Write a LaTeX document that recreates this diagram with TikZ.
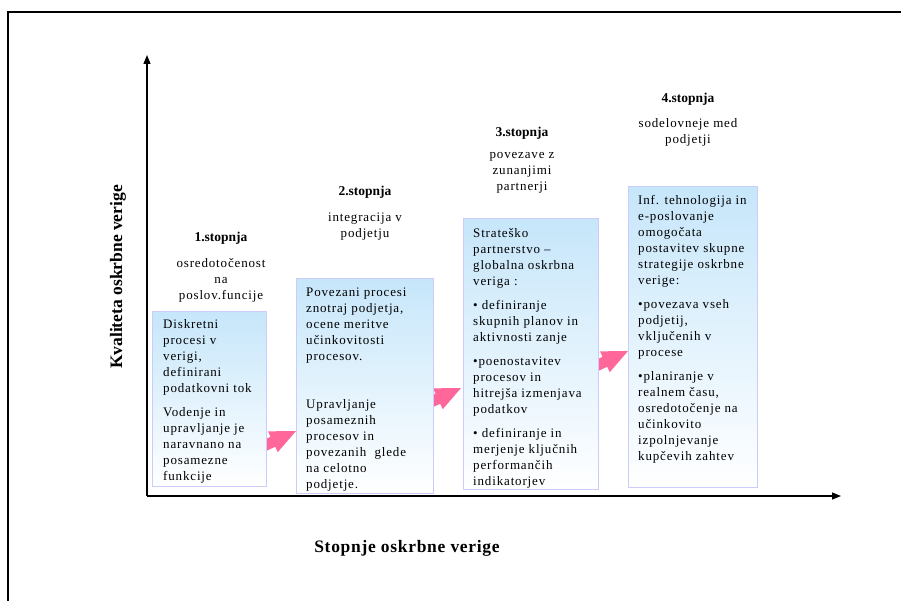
\documentclass[tikz,border=0pt]{standalone}
\usepackage{fontspec}
\setmainfont{Liberation Serif}
\newfontfamily\trackedfont{Liberation Serif}[LetterSpace=6.5]
\newfontfamily\labelfont{Liberation Serif}[LetterSpace=4]
\usetikzlibrary{arrows.meta}

\definecolor{boxtop}{RGB}{198,230,250}
\definecolor{boxline}{RGB}{204,204,250}
\definecolor{arrowpink}{RGB}{255,102,153}

\tikzset{
  stagebox/.style={draw=boxline, line width=0.9pt, top color=boxtop, bottom color=white,
    rectangle, inner sep=0pt, anchor=north west},
  boxtext/.style={anchor=north west, inner sep=0pt, align=left,
    font=\trackedfont\fontsize{13}{16}\selectfont, execute at begin node={\strut}},
  stagetitle/.style={anchor=base, inner sep=0pt, font=\bfseries\fontsize{13.5}{16}\selectfont},
  stagesub/.style={anchor=north, inner sep=0pt, align=center,
    font=\trackedfont\fontsize{13}{16}\selectfont, execute at begin node={\strut}},
  axislabel/.style={inner sep=0pt, font=\bfseries\fontsize{17.5}{20}\selectfont},
  axis/.style={line width=1.3pt, -{Triangle[length=9pt,width=7pt]}},
  stagearrow/.pic={
    \fill[arrowpink] (0,0) -- (-25.5,11.5) -- (-25.5,5.5) -- (-42,5.5) -- (-42,-5.5)
      -- (-25.5,-5.5) -- (-25.5,-11.5) -- cycle;}
}

\begin{document}
\begin{tikzpicture}[x=1pt,y=-1pt]
\useasboundingbox (0,0) rectangle (901,601);

% outer frame
\draw[line width=2.5pt] (8,605) -- (8,12) -- (905,12);

% axes
\coordinate (origin) at (147,496);
\coordinate (ytip) at (147,55);
\coordinate (xtip) at (841,496);
\draw[axis] (origin) -- (ytip);
\draw[axis] (origin) -- (xtip);
\node[axislabel, rotate=90] (ylab) at (118,277) {Kvaliteta oskrbne verige};
\node[axislabel, font=\labelfont\bfseries\fontsize{17.5}{20}\selectfont] (xlab) at (407,548) {Stopnje oskrbne verige};

% arrows between the stages (drawn first, boxes cover the shafts)
\coordinate (a1) at (296,431);
\coordinate (a2) at (461,388);
\coordinate (a3) at (628,351);
\pic[rotate=25] at (a1) {stagearrow};
\pic[rotate=25] at (a2) {stagearrow};
\pic[rotate=25] at (a3) {stagearrow};

% stage boxes
\node[stagebox, minimum width=114pt, minimum height=175pt] (b1) at (152,311) {};
\node[stagebox, minimum width=137pt, minimum height=215pt] (b2) at (296,278) {};
\node[stagebox, minimum width=135pt, minimum height=271pt] (b3) at (463,218) {};
\node[stagebox, minimum width=129pt, minimum height=301pt] (b4) at (628,186) {};

% stage titles
\node[stagetitle] (t1) at (221,242) {1.stopnja};
\node[stagetitle] (t2) at (365,196) {2.stopnja};
\node[stagetitle] (t3) at (522,137) {3.stopnja};
\node[stagetitle] (t4) at (688,103) {4.stopnja};

\node[stagesub] (s1) at (221,258.5) {osredotočenost\\na\\poslov.funcije};
\node[stagesub] (s2) at (365,212.5) {integracija v\\podjetju};
\node[stagesub] (s3) at (522,152.5) {povezave z\\zunanjimi\\partnerji};
\node[stagesub] (s4) at (688,118.5) {sodelovneje med\\podjetji};

% box contents
\node[boxtext] (c1) at (163,318.8) {Diskretni\\procesi v\\verigi,\\definirani\\podatkovni tok\\[8pt]
  Vodenje in\\upravljanje je\\naravnano na\\posamezne\\funkcije};
\node[boxtext] (c2) at (306,287.8) {Povezani procesi\\znotraj podjetja,\\ocene meritve\\učinkovitosti\\procesov.\\[32pt]
  Upravljanje\\posameznih\\procesov in\\povezanih~ glede\\na celotno\\podjetje.};
\node[boxtext] (c3) at (473,227.8) {Strateško\\partnerstvo –\\globalna oskrbna\\veriga :\\[8pt]
  • definiranje\\skupnih planov in\\aktivnosti zanje\\[8pt]
  •poenostavitev\\procesov in\\hitrejša izmenjava\\podatkov\\[8pt]
  • definiranje in\\merjenje ključnih\\performančih\\indikatorjev};
\node[boxtext] (c4) at (638,194.8) {Inf. tehnologija in\\e-poslovanje\\omogočata\\postavitev skupne\\strategije oskrbne\\verige:\\[8pt]
  •povezava vseh\\podjetij,\\vključenih v\\procese\\[8pt]
  •planiranje v\\realnem času,\\osredotočenje na\\učinkovito\\izpolnjevanje\\kupčevih zahtev};
\end{tikzpicture}
\end{document}
